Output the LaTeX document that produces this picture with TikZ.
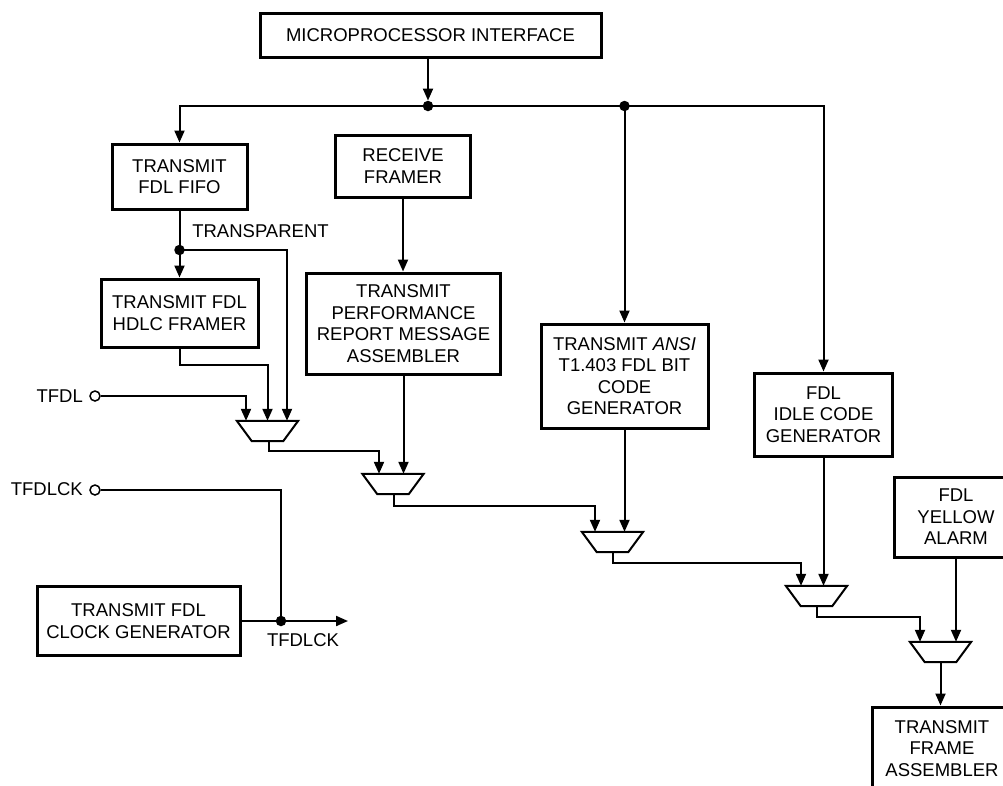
\documentclass[tikz,border=0pt]{standalone}
\usepackage{fontspec}
\setmainfont{Liberation Sans}
\usetikzlibrary{arrows.meta,calc}
\tikzset{
  blk/.style={draw, line width=3pt, align=center, inner sep=0pt, font=\fontsize{18.5}{21.5}\selectfont},
  wire/.style={line width=2pt},
  arr/.style={wire, -{Triangle[length=12pt,width=10pt]}},
  jdot/.style={circle, fill, inner sep=0pt, minimum size=10.5pt},
  pin/.style={circle, draw, line width=1.5pt, inner sep=0pt, minimum size=10pt},
  lbl/.style={inner sep=0pt, font=\fontsize{18.5}{21.5}\selectfont},
  muxbox/.style={inner sep=0pt, minimum width=61pt, minimum height=20pt},
  muxline/.style={line width=2pt, line join=miter}
}
\newcommand{\muxblk}[3]{%
  \node[muxbox] (#1) at (#2,#3) {};
  \draw[muxline] (#1.north west) -- (#1.north east) -- ([xshift=-15pt]#1.south east) -- ([xshift=15pt]#1.south west) -- cycle;}
\begin{document}
\begin{tikzpicture}[x=1pt,y=-1pt]
\useasboundingbox (0,0) rectangle (1003,785);
\clip (0,0) rectangle (1003,785);
% blocks
\node[blk, minimum width=341pt, minimum height=44pt] (micro) at (430.5,35) {MICROPROCESSOR INTERFACE};
\node[blk, minimum width=135pt, minimum height=65pt] (fifo) at (179.5,176.5) {TRANSMIT\\FDL FIFO};
\node[blk, minimum width=135pt, minimum height=62pt] (recv) at (403,166) {RECEIVE\\FRAMER};
\node[blk, minimum width=157pt, minimum height=68pt] (hdlc) at (179.5,313) {TRANSMIT FDL\\HDLC FRAMER};
\node[blk, minimum width=194pt, minimum height=101pt] (perf) at (403.5,323.5) {TRANSMIT\\PERFORMANCE\\REPORT MESSAGE\\ASSEMBLER};
\node[blk, minimum width=167pt, minimum height=104pt] (ansi) at (624.5,376) {TRANSMIT \textit{ANSI}\\T1.403 FDL BIT\\CODE\\GENERATOR};
\node[blk, minimum width=138pt, minimum height=83pt] (idle) at (823.5,414.5) {FDL\\IDLE CODE\\GENERATOR};
\node[blk, minimum width=124pt, minimum height=80pt] (yellow) at (956,517) {FDL\\YELLOW\\ALARM};
\node[blk, minimum width=140pt, minimum height=83pt] (frame) at (942,748.5) {TRANSMIT\\FRAME\\ASSEMBLER};
\node[blk, minimum width=203pt, minimum height=69pt] (clock) at (138.5,621) {TRANSMIT FDL\\CLOCK GENERATOR};
% muxes
\muxblk{m1}{267.5}{431}
\muxblk{m2}{393}{484}
\muxblk{m3}{612.5}{542}
\muxblk{m4}{816.5}{596}
\muxblk{m5}{940.5}{652}
% junctions, pins, labels
\node[jdot] (j1) at (428,106) {};
\node[jdot] (j2) at (624.5,106) {};
\node[jdot] (j3) at (179.5,250) {};
\node[jdot] (j4) at (281,621) {};
\node[pin] (tfdl) at (95,396) {};
\node[lbl, anchor=east] (tfdllbl) at (83,396) {TFDL};
\node[pin] (ckin) at (95,490) {};
\node[lbl, anchor=east] (ckinlbl) at (83,489) {TFDLCK};
\node[lbl] (transp) at (260.5,231) {TRANSPARENT};
\node[lbl] (cklbl) at (303,640) {TFDLCK};
\coordinate (ckout) at (348,621);
% connectors
\draw[arr] (micro.south -| j1) -- (j1);
\draw[arr] (j1.center) -| (fifo.north);
\draw[arr] (j1.center) -| (idle.north);
\draw[arr] (j2.center) -- (ansi.north);
\draw[wire] (fifo.south) -- (j3.center);
\draw[arr] (j3.center) -- (hdlc.north);
\draw[arr] (j3.center) -| ([xshift=19.5pt]m1.north);
\draw[arr] ([xshift=0.5pt]hdlc.south) -- ++(0,16) -| (m1.north);
\draw[arr] (tfdl) -| ([xshift=-21.5pt]m1.north);
\draw[arr] (recv.south) -- (recv.south |- perf.north);
\draw[arr] (perf.south) -- (perf.south |- m2.north);
\draw[arr] ([xshift=1.5pt]m1.south) -- ++(0,10) -| ([xshift=-14pt]m2.north);
\draw[arr] ([xshift=1pt]m2.south) -- ++(0,12) -| ([xshift=-17.5pt]m3.north);
\draw[arr] (ansi.south) -- (ansi.south |- m3.north);
\draw[arr] (m3.south) -- ++(0,11) -| ([xshift=-15.5pt]m4.north);
\draw[arr] (idle.south) -- (idle.south |- m4.north);
\draw[arr] (m4.south) -- ++(0,11) -| ([xshift=-20.5pt]m5.north);
\draw[arr] (yellow.south) -- (yellow.south |- m5.north);
\draw[arr] (m5.south) -- (m5.south |- frame.north);
\draw[wire] (ckin) -| (j4);
\draw[arr] (clock.east) -- (ckout);
\end{tikzpicture}
\end{document}
